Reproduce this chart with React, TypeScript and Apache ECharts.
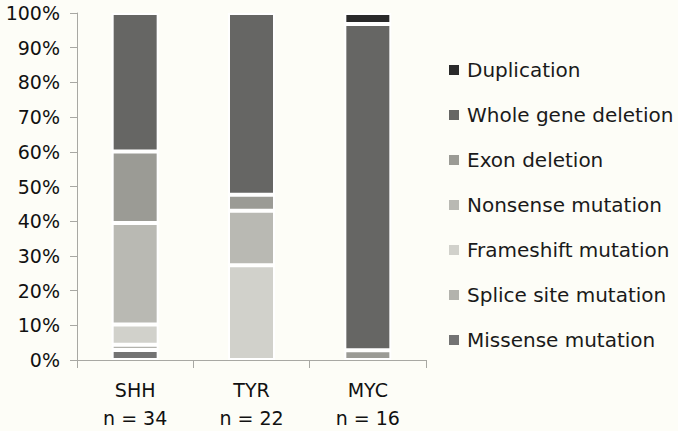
import React, { useEffect, useRef } from "react";
import * as echarts from "echarts";

const categories = ["SHH\nn = 34", "TYR\nn = 22", "MYC\nn = 16"];
const yTicks = [0, 10, 20, 30, 40, 50, 60, 70, 80, 90, 100];

const seriesNames = [
  "Missense mutation",
  "Splice site mutation",
  "Frameshift mutation",
  "Nonsense mutation",
  "Exon deletion",
  "Whole gene deletion",
  "Duplication",
];
const missense = [2.9, 0, 0];
const spliceSite = [1.5, 0, 0];
const frameshift = [5.8, 27.3, 0];
const nonsense = [29.3, 15.7, 0];
const exonDeletion = [20.6, 4.6, 2.8];
const wholeGene = [39.9, 52.4, 94.0];
const duplication = [0, 0, 3.2];

const seriesValues = [missense, spliceSite, frameshift, nonsense, exonDeletion, wholeGene, duplication];
const seriesColors = ["#737373", "#b3b3ad", "#d1d1cb", "#b9b9b3", "#9b9b95", "#666664", "#2a2a2a"];
const legendOrder = [...seriesNames].reverse();

const FONT = "DejaVu Sans";
const BG = "#fdfdf7";

export default function App() {
  const ref = useRef<HTMLDivElement>(null);
  useEffect(() => {
    if (!ref.current) return;
    const chart = echarts.init(ref.current, null, { renderer: "svg" });
    chart.setOption({
      animation: false,
      backgroundColor: BG,
      grid: { left: 77, right: 252, top: 13, bottom: 71, containLabel: false, outerBoundsMode: "none" },
      legend: {
        orient: "vertical",
        left: 444,
        top: 55,
        data: legendOrder,
        icon: "rect",
        itemWidth: 10,
        itemHeight: 10,
        itemGap: 25,
        itemStyle: { borderWidth: 0 },
        textStyle: { fontFamily: FONT, fontSize: 20, color: "#1a1a1a", lineHeight: 20, padding: [0, 0, 0, 3] },
      },
      xAxis: {
        type: "category",
        data: categories,
        axisLine: { lineStyle: { color: "#a8a8a3", width: 1 } },
        axisTick: { show: true, length: 8, lineStyle: { color: "#a8a8a3" } },
        axisLabel: { fontFamily: FONT, fontSize: 19, color: "#111", lineHeight: 28, margin: 16 },
      },
      yAxis: {
        type: "value",
        min: yTicks[0],
        max: yTicks[yTicks.length - 1],
        interval: 10,
        splitLine: { show: false },
        axisLine: { show: true, lineStyle: { color: "#a8a8a3", width: 1 } },
        axisTick: { show: true, length: 7, lineStyle: { color: "#a8a8a3" } },
        axisLabel: { fontFamily: FONT, fontSize: 19, color: "#111", formatter: "{value}%", margin: 17 },
      },
      series: seriesNames.map((name, i) => ({
        name,
        type: "bar",
        stack: "total",
        barWidth: 47,
        data: seriesValues[i].map((v) => (v === 0 ? null : v)),
        itemStyle: { color: seriesColors[i], borderColor: "#ffffff", borderWidth: 2 },
      })),
    });
    return () => chart.dispose();
  }, []);
  return (
    <div
      ref={ref}
      style={{ position: "fixed", left: 0, top: 0, width: 678, height: 431, background: BG }}
    />
  );
}
